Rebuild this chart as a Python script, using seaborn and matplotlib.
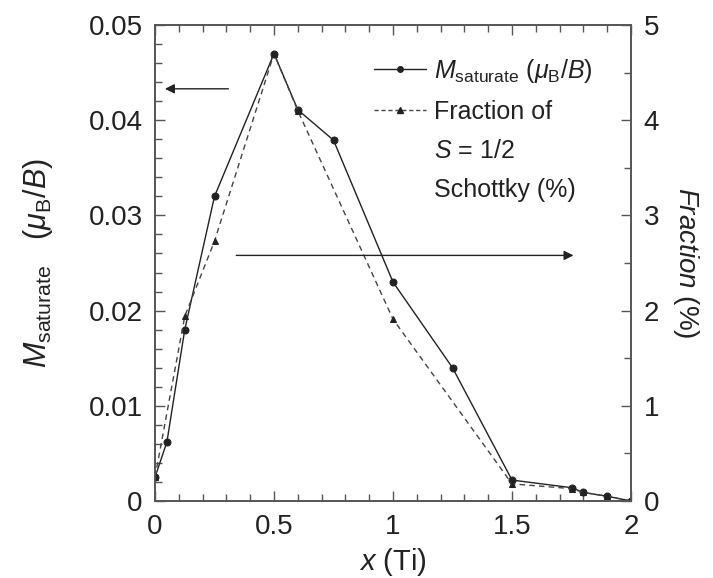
import matplotlib
matplotlib.use('Agg')
import matplotlib.pyplot as plt
from matplotlib.ticker import MultipleLocator
from matplotlib.lines import Line2D
import pandas as pd
import seaborn as sns

sns.set_style('ticks')
plt.rcParams['font.family'] = ['Liberation Sans', 'DejaVu Sans']
plt.rcParams['mathtext.fontset'] = 'custom'
plt.rcParams['mathtext.rm'] = 'Liberation Sans'
plt.rcParams['mathtext.it'] = 'Liberation Sans:italic'

# saturated moment (left axis)
x_m = [0, 0.05, 0.125, 0.25, 0.5, 0.6, 0.75, 1.0, 1.25, 1.5, 1.75, 1.8, 1.9, 2.0]
m_sat = [0.0025, 0.0062, 0.018, 0.032, 0.047, 0.0411, 0.0379, 0.023, 0.014, 0.0022, 0.0014, 0.0009, 0.0005, 0.0]

# fraction of S=1/2 Schottky (right axis, %)
x_f = [0, 0.125, 0.25, 0.5, 0.6, 1.0, 1.5, 1.75, 1.8, 1.9, 2.0]
frac = [0.25, 1.94, 2.73, 4.7, 4.1, 1.91, 0.18, 0.13, 0.09, 0.05, 0.0]

df_m = pd.DataFrame({'x': x_m, 'm': m_sat})
df_f = pd.DataFrame({'x': x_f, 'f': frac})

fig = plt.figure(figsize=(7.13, 5.78), dpi=100)
ax = fig.add_axes([0.2174, 0.1332, 0.6676, 0.8235])
ax2 = ax.twinx()

col = '#222222'
sns.lineplot(data=df_m, x='x', y='m', ax=ax, color=col, lw=1.0, marker='o',
             markersize=5, markeredgecolor=col)
sns.lineplot(data=df_f, x='x', y='f', ax=ax2, color='#444444', lw=1.0, ls=(0, (4, 3)),
             marker='^', markersize=5, markeredgecolor=col, markerfacecolor=col)

ax.set_xlim(0, 2)
ax.set_ylim(0, 0.05)
ax2.set_ylim(0, 5)

fs = 20
ax.xaxis.set_major_locator(MultipleLocator(0.5))
ax.xaxis.set_minor_locator(MultipleLocator(0.1))
ax.yaxis.set_major_locator(MultipleLocator(0.01))
ax.yaxis.set_minor_locator(MultipleLocator(0.002))
ax2.yaxis.set_major_locator(MultipleLocator(1))
ax2.yaxis.set_minor_locator(MultipleLocator(0.5))
ax.set_xticks([0, 0.5, 1, 1.5, 2])
ax.set_xticklabels(['0', '0.5', '1', '1.5', '2'])
ax.set_yticks([0, 0.01, 0.02, 0.03, 0.04, 0.05])
ax.set_yticklabels(['0', '0.01', '0.02', '0.03', '0.04', '0.05'])

ax.tick_params(which='both', direction='in', top=True, right=False, labelsize=fs,
               color='#555555', labelcolor='#222222', pad=9)
ax.tick_params(which='major', length=7, width=1)
ax.tick_params(which='minor', length=5, width=1)
ax2.tick_params(which='both', direction='in', labelsize=fs, color='#555555',
                labelcolor='#222222', pad=9)
ax2.tick_params(which='major', length=7, width=1)
ax2.tick_params(which='minor', length=5, width=1)

for a in (ax, ax2):
    for s in a.spines.values():
        s.set_color('#555555')
        s.set_linewidth(1.2)

ax.set_xlabel('$x$ (Ti)', fontsize=21, labelpad=5, color='#222222')
ax.set_ylabel(r'$M_{\mathrm{saturate}}$   ($\mu_{\mathrm{B}}$/$B$)', fontsize=22,
              labelpad=24, color='#222222')
ax2.set_ylabel('$Fraction$ (%)', fontsize=20, rotation=-90, labelpad=30, color='#222222')

# arrows pointing at the axes each series belongs to
ax.annotate('', xy=(0.03, 0.0433), xytext=(0.32, 0.0433),
            arrowprops=dict(arrowstyle='-|>', color=col, lw=1.0, mutation_scale=14))
ax2.annotate('', xy=(1.77, 2.58), xytext=(0.33, 2.58),
             arrowprops=dict(arrowstyle='-|>', color=col, lw=1.0, mutation_scale=14))

blank = Line2D([], [], lw=0, marker=None)
handles = [Line2D([], [], color=col, lw=1.0, marker='o', markersize=4),
           Line2D([], [], color='#444444', lw=1.0, ls=(0, (3, 2)), marker='^',
                  markersize=4, markerfacecolor=col, markeredgecolor=col),
           blank, blank]
labels = [r'$M_{\mathrm{saturate}}$ ($\mu_{\mathrm{B}}$/$B$)',
          'Fraction of', '$S$ = 1/2', 'Schottky (%)']
leg = ax.legend(handles, labels, loc='upper right', bbox_to_anchor=(0.95, 0.965),
                frameon=False, fontsize=18, handlelength=2.1, handletextpad=0.3,
                labelspacing=0.6, borderaxespad=0.2)
for t in leg.get_texts():
    t.set_color('#222222')

fig.savefig('out.png', dpi=100)
